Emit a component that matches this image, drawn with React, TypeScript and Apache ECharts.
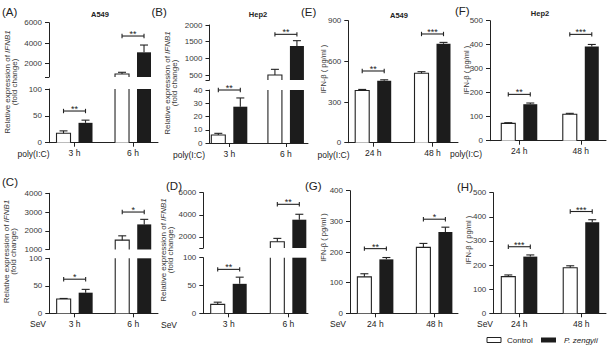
import React, { useEffect, useRef } from 'react';
import * as echarts from 'echarts';

const FONT = '"Liberation Sans", Arial, Helvetica, sans-serif';
const INK = '#222';
const LABEL = '#3a3a3a';
const BAR_FILL = '#1c1c1c';
const BAR_W = 14;
const BAR_OFFSET = 11;
const CAP_W = 8;

// Time points
const rtTimes = ['3 h', '6 h'];
const elisaTimes = ['24 h', '48 h'];

// (A) A549, poly(I:C) — IFNB1 fold change (mean, SD)
const aCtrl = [17.5, 1000];
const aCtrlSd = [4.5, 160];
const aPz = [37, 3110];
const aPzSd = [5, 710];
const aSig = ['**', '**'];
const aSigY = [59, 4700];
const aUpperTicks = [2000, 4000, 6000];

// (B) Hep2, poly(I:C) — IFNB1 fold change
const bCtrl = [6, 500];
const bCtrlSd = [1.3, 170];
const bPz = [27.4, 1370];
const bPzSd = [6.6, 160];
const bSig = ['**', '**'];
const bSigY = [40, 1720];
const bUpperTicks = [500, 1000, 1500, 2000];

// (C) A549, SeV — IFNB1 fold change
const cCtrl = [26, 1500];
const cCtrlSd = [1, 230];
const cPz = [37.5, 2340];
const cPzSd = [6, 270];
const cSig = ['*', '*'];
const cSigY = [62, 3000];
const cUpperTicks = [1000, 2000, 3000, 4000];

// (D) Hep2, SeV — IFNB1 fold change
const dCtrl = [16, 1570];
const dCtrlSd = [4, 300];
const dPz = [53, 3560];
const dPzSd = [12, 490];
const dSig = ['**', '**'];
const dSigY = [79, 4950];
const dUpperTicks = [2000, 4000, 6000];

// (E) A549, poly(I:C) — IFN-β pg/ml
const eCtrl = [385, 512];
const eCtrlSd = [8, 12];
const ePz = [457, 730];
const ePzSd = [7, 10];
const eSig = ['**', '***'];
const eSigY = [529, 802];

// (F) Hep2, poly(I:C) — IFN-β pg/ml
const fCtrl = [72, 110];
const fCtrlSd = [3, 4];
const fPz = [152, 393];
const fPzSd = [5, 8];
const fSig = ['**', '***'];
const fSigY = [193, 443];

// (G) A549, SeV — IFN-β pg/ml
const gCtrl = [119, 215];
const gCtrlSd = [10, 13];
const gPz = [176, 265];
const gPzSd = [6, 16];
const gSig = ['**', '*'];
const gSigY = [211, 307];

// (H) Hep2, SeV — IFN-β pg/ml
const hCtrl = [152, 189];
const hCtrlSd = [7, 8];
const hPz = [235, 378];
const hPzSd = [7, 10];
const hSig = ['***', '***'];
const hSigY = [276, 422];

interface Seg {
  top: number;
  bottom: number;
  min: number;
  max: number;
  interval?: number;
  labels?: number[];
}

interface Panel {
  left: number;
  right: number;
  xMin: number;
  xMax: number;
  cats: string[];
  lower: Seg;
  upper?: Seg;
  ctrl: number[];
  ctrlSd: number[];
  pz: number[];
  pzSd: number[];
  sig: string[];
  sigY: number[];
}

const panels: Panel[] = [
  {
    left: 49, right: 158, xMin: -0.436, xMax: 1.427, cats: rtTimes,
    lower: { top: 89, bottom: 142.7, min: 0, max: 100, interval: 50 },
    upper: { top: 22.7, bottom: 77, min: 700, max: 6000, labels: aUpperTicks },
    ctrl: aCtrl, ctrlSd: aCtrlSd, pz: aPz, pzSd: aPzSd, sig: aSig, sigY: aSigY,
  },
  {
    left: 209.5, right: 308, xMin: -0.35, xMax: 1.39, cats: rtTimes,
    lower: { top: 90, bottom: 143, min: 0, max: 40, interval: 10 },
    upper: { top: 25, bottom: 80, min: 350, max: 2000, labels: bUpperTicks },
    ctrl: bCtrl, ctrlSd: bCtrlSd, pz: bPz, pzSd: bPzSd, sig: bSig, sigY: bSigY,
  },
  {
    left: 49.3, right: 158, xMin: -0.433, xMax: 1.423, cats: rtTimes,
    lower: { top: 258.3, bottom: 313.3, min: 0, max: 100, interval: 50 },
    upper: { top: 193.3, bottom: 249.5, min: 1000, max: 4000, labels: cUpperTicks },
    ctrl: cCtrl, ctrlSd: cCtrlSd, pz: cPz, pzSd: cPzSd, sig: cSig, sigY: cSigY,
  },
  {
    left: 203.3, right: 308, xMin: -0.426, xMax: 1.33, cats: rtTimes,
    lower: { top: 257.7, bottom: 313.3, min: 0, max: 100, interval: 50 },
    upper: { top: 192.7, bottom: 248, min: 1000, max: 6000, labels: dUpperTicks },
    ctrl: dCtrl, ctrlSd: dCtrlSd, pz: dPz, pzSd: dPzSd, sig: dSig, sigY: dSigY,
  },
  {
    left: 348.3, right: 458, xMin: -0.42, xMax: 1.43, cats: elisaTimes,
    lower: { top: 20.7, bottom: 142.7, min: 0, max: 900, interval: 300 },
    ctrl: eCtrl, ctrlSd: eCtrlSd, pz: ePz, pzSd: ePzSd, sig: eSig, sigY: eSigY,
  },
  {
    left: 490, right: 606, xMin: -0.476, xMax: 1.41, cats: elisaTimes,
    lower: { top: 20.7, bottom: 140.7, min: 0, max: 500, interval: 100 },
    ctrl: fCtrl, ctrlSd: fCtrlSd, pz: fPz, pzSd: fPzSd, sig: fSig, sigY: fSigY,
  },
  {
    left: 350, right: 458, xMin: -0.43, xMax: 1.4, cats: elisaTimes,
    lower: { top: 190.7, bottom: 313.3, min: 0, max: 400, interval: 100 },
    ctrl: gCtrl, ctrlSd: gCtrlSd, pz: gPz, pzSd: gPzSd, sig: gSig, sigY: gSigY,
  },
  {
    left: 493.3, right: 606, xMin: -0.42, xMax: 1.4, cats: elisaTimes,
    lower: { top: 192.7, bottom: 313.3, min: 0, max: 500, interval: 100 },
    ctrl: hCtrl, ctrlSd: hCtrlSd, pz: hPz, pzSd: hPzSd, sig: hSig, sigY: hSigY,
  },
];

const lineStyle = { stroke: INK, lineWidth: 1.1 };

// Bar (plus upward error bar) drawn inside one axis segment; parts outside the
// segment are cut off with the open edge left unstroked, as on a broken axis.
const renderBar = (seg: Seg, offset: number, filled: boolean) => (params: any, api: any) => {
  const i = api.value(0) as number;
  const v = api.value(1) as number;
  const sd = api.value(2) as number;
  const children: any[] = [];
  if (!(v > seg.min)) return { type: 'group', children };
  const basePt = api.coord([i, seg.min]);
  const cx = basePt[0] + offset;
  const yBase = basePt[1];
  const cutTop = v > seg.max;
  const yTop = api.coord([i, Math.min(v, seg.max)])[1];
  const x0 = cx - BAR_W / 2;
  const x1 = cx + BAR_W / 2;
  children.push({
    type: 'rect',
    shape: { x: x0, y: yTop, width: BAR_W, height: yBase - yTop },
    style: { fill: filled ? BAR_FILL : '#fff' },
  });
  if (!filled) {
    if (cutTop) {
      children.push({ type: 'line', shape: { x1: x0, y1: yBase, x2: x0, y2: yTop }, style: lineStyle });
      children.push({ type: 'line', shape: { x1: x1, y1: yBase, x2: x1, y2: yTop }, style: lineStyle });
    } else {
      children.push({
        type: 'polyline',
        shape: { points: [[x0, yBase], [x0, yTop], [x1, yTop], [x1, yBase]] },
        style: { ...lineStyle, fill: null },
      });
    }
  }
  if (!cutTop && sd > 0) {
    const tip = Math.min(v + sd, seg.max);
    const yTip = api.coord([i, tip])[1];
    children.push({ type: 'line', shape: { x1: cx, y1: yTop, x2: cx, y2: yTip }, style: lineStyle });
    if (v + sd <= seg.max) {
      children.push({
        type: 'line',
        shape: { x1: cx - CAP_W / 2, y1: yTip, x2: cx + CAP_W / 2, y2: yTip },
        style: lineStyle,
      });
    }
  }
  return { type: 'group', children };
};

// Significance bracket spanning the pair of bars, with stars above it
const renderSig = (labels: string[], rows: number[]) => (params: any, api: any) => {
  const pt = api.coord([api.value(0), api.value(1)]);
  const cx = pt[0];
  const cy = pt[1];
  const h = BAR_OFFSET;
  return {
    type: 'group',
    children: [
      { type: 'line', shape: { x1: cx - h, y1: cy, x2: cx + h, y2: cy }, style: lineStyle },
      { type: 'line', shape: { x1: cx - h, y1: cy - 2.2, x2: cx - h, y2: cy + 2.2 }, style: lineStyle },
      { type: 'line', shape: { x1: cx + h, y1: cy - 2.2, x2: cx + h, y2: cy + 2.2 }, style: lineStyle },
      {
        type: 'text',
        x: cx,
        y: cy - 2,
        style: {
          text: labels[rows[params.dataIndex]],
          fill: INK,
          font: `9px ${FONT}`,
          align: 'center',
          textAlign: 'center',
          verticalAlign: 'middle',
          textVerticalAlign: 'middle',
        },
      },
    ],
  };
};

function buildOption() {
  const grid: any[] = [];
  const xAxis: any[] = [];
  const yAxis: any[] = [];
  const series: any[] = [];
  const axisLineStyle = { color: INK, width: 1 };

  const addSegment = (p: Panel, seg: Seg, isUpper: boolean) => {
    const idx = grid.length;
    grid.push({
      left: p.left,
      top: seg.top,
      width: p.right - p.left,
      height: seg.bottom - seg.top,
      containLabel: false,
      outerBoundsMode: 'none',
    });
    xAxis.push({
      gridIndex: idx,
      type: 'value',
      min: p.xMin,
      max: p.xMax,
      show: !isUpper,
      axisLine: { show: true, onZero: false, lineStyle: axisLineStyle },
      axisTick: { show: true, length: 4, customValues: [0, 1], lineStyle: axisLineStyle },
      axisLabel: {
        customValues: [0, 1],
        formatter: (v: number) => p.cats[Math.round(v)] ?? '',
        color: INK,
        fontSize: 8.5,
        fontFamily: FONT,
        margin: 6,
      },
      splitLine: { show: false },
    });
    const y: any = {
      gridIndex: idx,
      type: 'value',
      min: seg.min,
      max: seg.max,
      axisLine: { show: true, onZero: false, lineStyle: axisLineStyle },
      axisTick: { show: true, length: 4, lineStyle: axisLineStyle },
      axisLabel: {
        color: LABEL,
        fontSize: 8,
        fontFamily: FONT,
        margin: 7,
        formatter: (v: number) => String(v),
      },
      splitLine: { show: false },
    };
    if (isUpper && seg.labels) {
      const tickVals = Array.from(new Set([seg.min, ...seg.labels]));
      y.axisTick.customValues = tickVals;
      y.axisLabel.customValues = seg.labels;
    } else {
      y.interval = seg.interval;
    }
    yAxis.push(y);

    series.push({
      type: 'custom',
      name: 'Control',
      xAxisIndex: idx,
      yAxisIndex: idx,
      silent: true,
      data: p.ctrl.map((v, i) => [i, v, p.ctrlSd[i]]),
      renderItem: renderBar(seg, -BAR_OFFSET, false),
    });
    series.push({
      type: 'custom',
      name: 'P. zengyii',
      xAxisIndex: idx,
      yAxisIndex: idx,
      silent: true,
      data: p.pz.map((v, i) => [i, v, p.pzSd[i]]),
      renderItem: renderBar(seg, BAR_OFFSET, true),
    });

    const rows = p.sigY
      .map((sy, i) => i)
      .filter((i) => {
        const sy = p.sigY[i];
        if (!p.upper) return true;
        return isUpper ? sy > p.lower.max : sy <= p.lower.max;
      });
    if (rows.length) {
      series.push({
        type: 'custom',
        xAxisIndex: idx,
        yAxisIndex: idx,
        silent: true,
        z: 3,
        data: rows.map((i) => [i, p.sigY[i]]),
        renderItem: renderSig(p.sig, rows),
      });
    }
  };

  panels.forEach((p) => {
    addSegment(p, p.lower, false);
    if (p.upper) addSegment(p, p.upper, true);
  });

  const text = (x: number, y: number, t: string, extra: any = {}) => ({
    type: 'text',
    x,
    y,
    rotation: extra.rotation ?? 0,
    silent: true,
    style: {
      text: t,
      fill: extra.fill ?? INK,
      font: `${extra.fontStyle ?? 'normal'} ${extra.fontWeight ?? 'normal'} ${extra.size ?? 8.5}px ${FONT}`,
      align: extra.align ?? 'center',
      textAlign: extra.align ?? 'center',
      verticalAlign: extra.vAlign ?? 'middle',
      textVerticalAlign: extra.vAlign ?? 'middle',
      rich: extra.rich,
    },
  });

  const rot = Math.PI / 2;
  const foldRich = {
    n: { fontSize: 8, fontFamily: FONT, fill: LABEL, color: LABEL },
    i: { fontSize: 8, fontFamily: FONT, fontStyle: 'italic', fill: LABEL, color: LABEL },
  };
  const foldTitle = (x: number, y: number) => [
    text(x, y, '{n|Relative expression of }{i|IFNB1}', { rotation: rot, size: 8, rich: foldRich, fill: LABEL }),
    text(x + 7, y, '(fold change)', { rotation: rot, size: 8, fill: LABEL }),
  ];
  const ifnTitle = (x: number, y: number) => text(x, y, 'IFN-β ( pg/ml )', { rotation: rot, size: 7.5, fill: LABEL });
  const letter = (x: number, y: number, t: string) => text(x, y, t, { size: 11.5, align: 'left' });

  const graphic: any[] = [
    // panel letters
    letter(2, 11.5, '(A)'),
    letter(151.5, 11.5, '(B)'),
    letter(2, 181.7, '(C)'),
    letter(166, 185.5, '(D)'),
    letter(301, 11.5, '(E)'),
    letter(455, 10.5, '(F)'),
    letter(305, 186, '(G)'),
    letter(457, 186.5, '(H)'),
    // cell line titles
    text(100, 14, 'A549', { size: 7.5, fontWeight: 'bold' }),
    text(258, 14, 'Hep2', { size: 7.5, fontWeight: 'bold' }),
    text(399, 15, 'A549', { size: 7.5, fontWeight: 'bold' }),
    text(540, 13.5, 'Hep2', { size: 7.5, fontWeight: 'bold' }),
    // y-axis titles
    ...foldTitle(7.5, 82),
    ...foldTitle(167.5, 83),
    ...foldTitle(6.5, 251.5),
    ...foldTitle(163.5, 250),
    ifnTitle(323, 69),
    ifnTitle(466, 70),
    ifnTitle(323, 237.5),
    ifnTitle(468.5, 240),
    // stimulus labels
    text(33.5, 154, 'poly(I:C)'),
    text(189, 154.7, 'poly(I:C)'),
    text(333.5, 155, 'poly(I:C)'),
    text(466, 154, 'poly(I:C)'),
    text(38, 324, 'SeV'),
    text(169, 325, 'SeV'),
    text(338, 324.3, 'SeV'),
    text(485, 324, 'SeV'),
    // legend
    {
      type: 'rect',
      silent: true,
      shape: { x: 487, y: 337.5, width: 14, height: 5 },
      style: { fill: '#fff', stroke: INK, lineWidth: 1 },
    },
    text(507, 340, 'Control', { align: 'left', size: 8 }),
    {
      type: 'rect',
      silent: true,
      shape: { x: 541, y: 337.5, width: 15, height: 5 },
      style: { fill: BAR_FILL },
    },
    text(564, 340, 'P. zengyii', { align: 'left', fontStyle: 'italic', size: 8 }),
  ];

  return {
    animation: false,
    backgroundColor: '#fff',
    textStyle: { fontFamily: FONT },
    grid,
    xAxis,
    yAxis,
    series,
    graphic,
  };
}

export default function App() {
  const ref = useRef<HTMLDivElement>(null);
  useEffect(() => {
    if (!ref.current) return;
    const chart = echarts.init(ref.current, undefined, { renderer: 'svg' });
    chart.setOption(buildOption() as any);
    return () => chart.dispose();
  }, []);
  return (
    <div
      ref={ref}
      style={{ position: 'absolute', left: 0, top: 0, width: 607, height: 347, background: '#fff' }}
    />
  );
}
